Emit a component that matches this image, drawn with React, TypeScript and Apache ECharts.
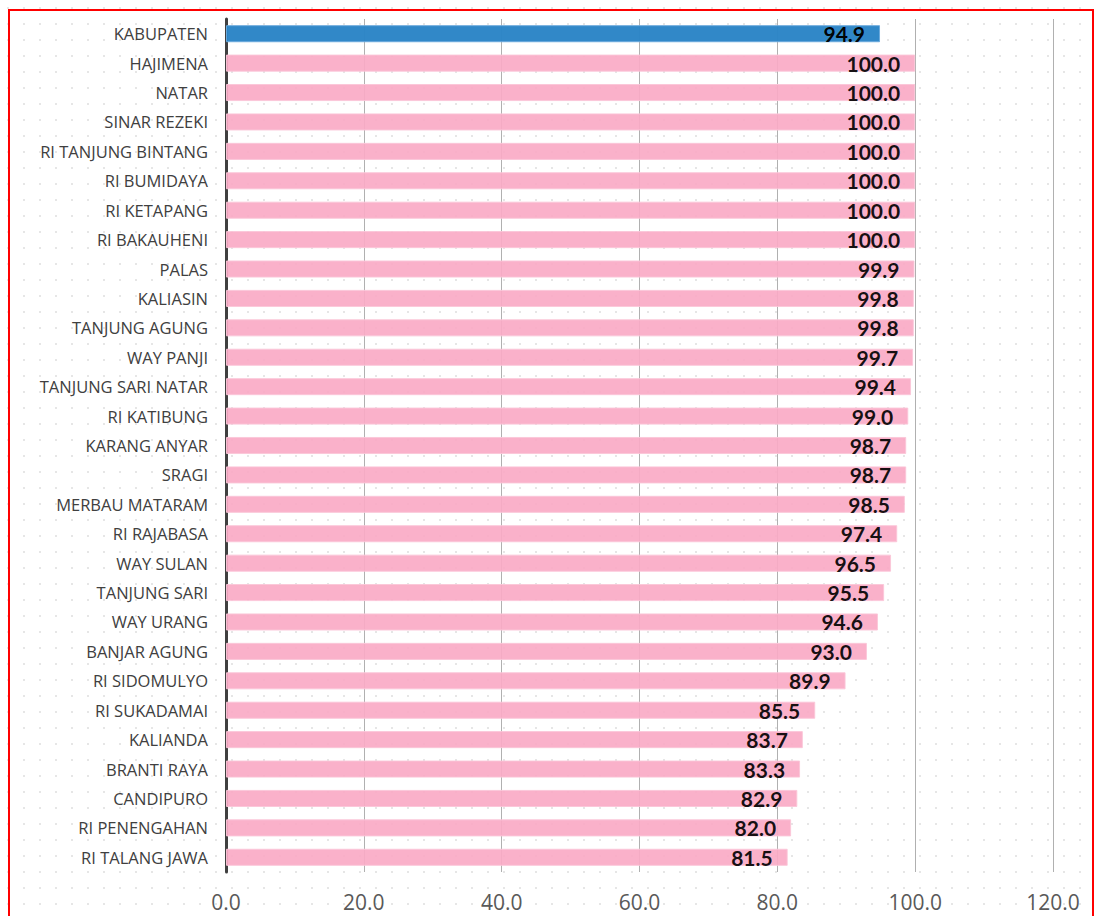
import React, { useEffect, useRef } from "react";
import * as echarts from "echarts";

const categories = [
  "KABUPATEN", "HAJIMENA", "NATAR", "SINAR REZEKI", "RI TANJUNG BINTANG", "RI BUMIDAYA",
  "RI KETAPANG", "RI BAKAUHENI", "PALAS", "KALIASIN", "TANJUNG AGUNG", "WAY PANJI",
  "TANJUNG SARI NATAR", "RI KATIBUNG", "KARANG ANYAR", "SRAGI", "MERBAU MATARAM",
  "RI RAJABASA", "WAY SULAN", "TANJUNG SARI", "WAY URANG", "BANJAR AGUNG", "RI SIDOMULYO",
  "RI SUKADAMAI", "KALIANDA", "BRANTI RAYA", "CANDIPURO", "RI PENENGAHAN", "RI TALANG JAWA",
];
const values = [
  94.9, 100.0, 100.0, 100.0, 100.0, 100.0, 100.0, 100.0, 99.9, 99.8, 99.8, 99.7, 99.4,
  99.0, 98.7, 98.7, 98.5, 97.4, 96.5, 95.5, 94.6, 93.0, 89.9, 85.5, 83.7, 83.3, 82.9,
  82.0, 81.5,
];
const highlight = "KABUPATEN";

export default function App() {
  const ref = useRef<HTMLDivElement>(null);
  useEffect(() => {
    if (!ref.current) return;
    const chart = echarts.init(ref.current, null, { renderer: "svg" });
    chart.setOption({
      animation: false,
      grid: { left: 226, right: 42, top: 19, bottom: 44, containLabel: false },
      xAxis: {
        type: "value",
        min: 0,
        max: 120,
        interval: 20,
        axisLine: { show: false },
        axisTick: { show: false },
        axisLabel: {
          formatter: (v: number) => v.toFixed(1),
          fontFamily: "Open Sans",
          fontSize: 21,
          color: "#595959",
          margin: 19,
        },
        splitLine: { show: true, lineStyle: { color: "#b0b0b0", width: 1 } },
      },
      yAxis: {
        type: "category",
        inverse: true,
        data: categories,
        axisLine: { show: true, lineStyle: { color: "#404040", width: 3 } },
        axisTick: { show: false },
        axisLabel: {
          fontFamily: "Open Sans",
          fontSize: 16.5,
          color: "#404040",
          margin: 18,
        },
      },
      series: [
        {
          type: "bar",
          data: values.map((v, i) => ({
            value: v,
            itemStyle:
              categories[i] === highlight
                ? { color: "#2A84C6", borderColor: "#6aa9dc", borderWidth: 1, opacity: 0.97 }
                : { color: "#FAAAC6", borderColor: "#fbc6d8", borderWidth: 1, opacity: 0.92 },
          })),
          barWidth: "58%",
          label: {
            show: true,
            position: "insideRight",
            distance: 15,
            formatter: (p: any) => Number(p.value).toFixed(1),
            fontFamily: "Lato",
            fontWeight: "bold",
            fontSize: 21,
            color: "#000000",
          },
        },
      ],
      graphic: [
        {
          type: "rect",
          z: 100,
          shape: { x: 9, y: 10, width: 1084, height: 930 },
          style: { fill: "none", stroke: "#ff0000", lineWidth: 2 },
          silent: true,
        },
      ],
    });
    return () => chart.dispose();
  }, []);
  return (
    <div
      ref={ref}
      style={{
        position: "fixed",
        left: 0,
        top: 0,
        width: 1095,
        height: 916,
        backgroundColor: "#ffffff",
        backgroundImage: "radial-gradient(circle, #e6e6e6 1px, transparent 1.3px)",
        backgroundSize: "16px 16px",
      }}
    />
  );
}
